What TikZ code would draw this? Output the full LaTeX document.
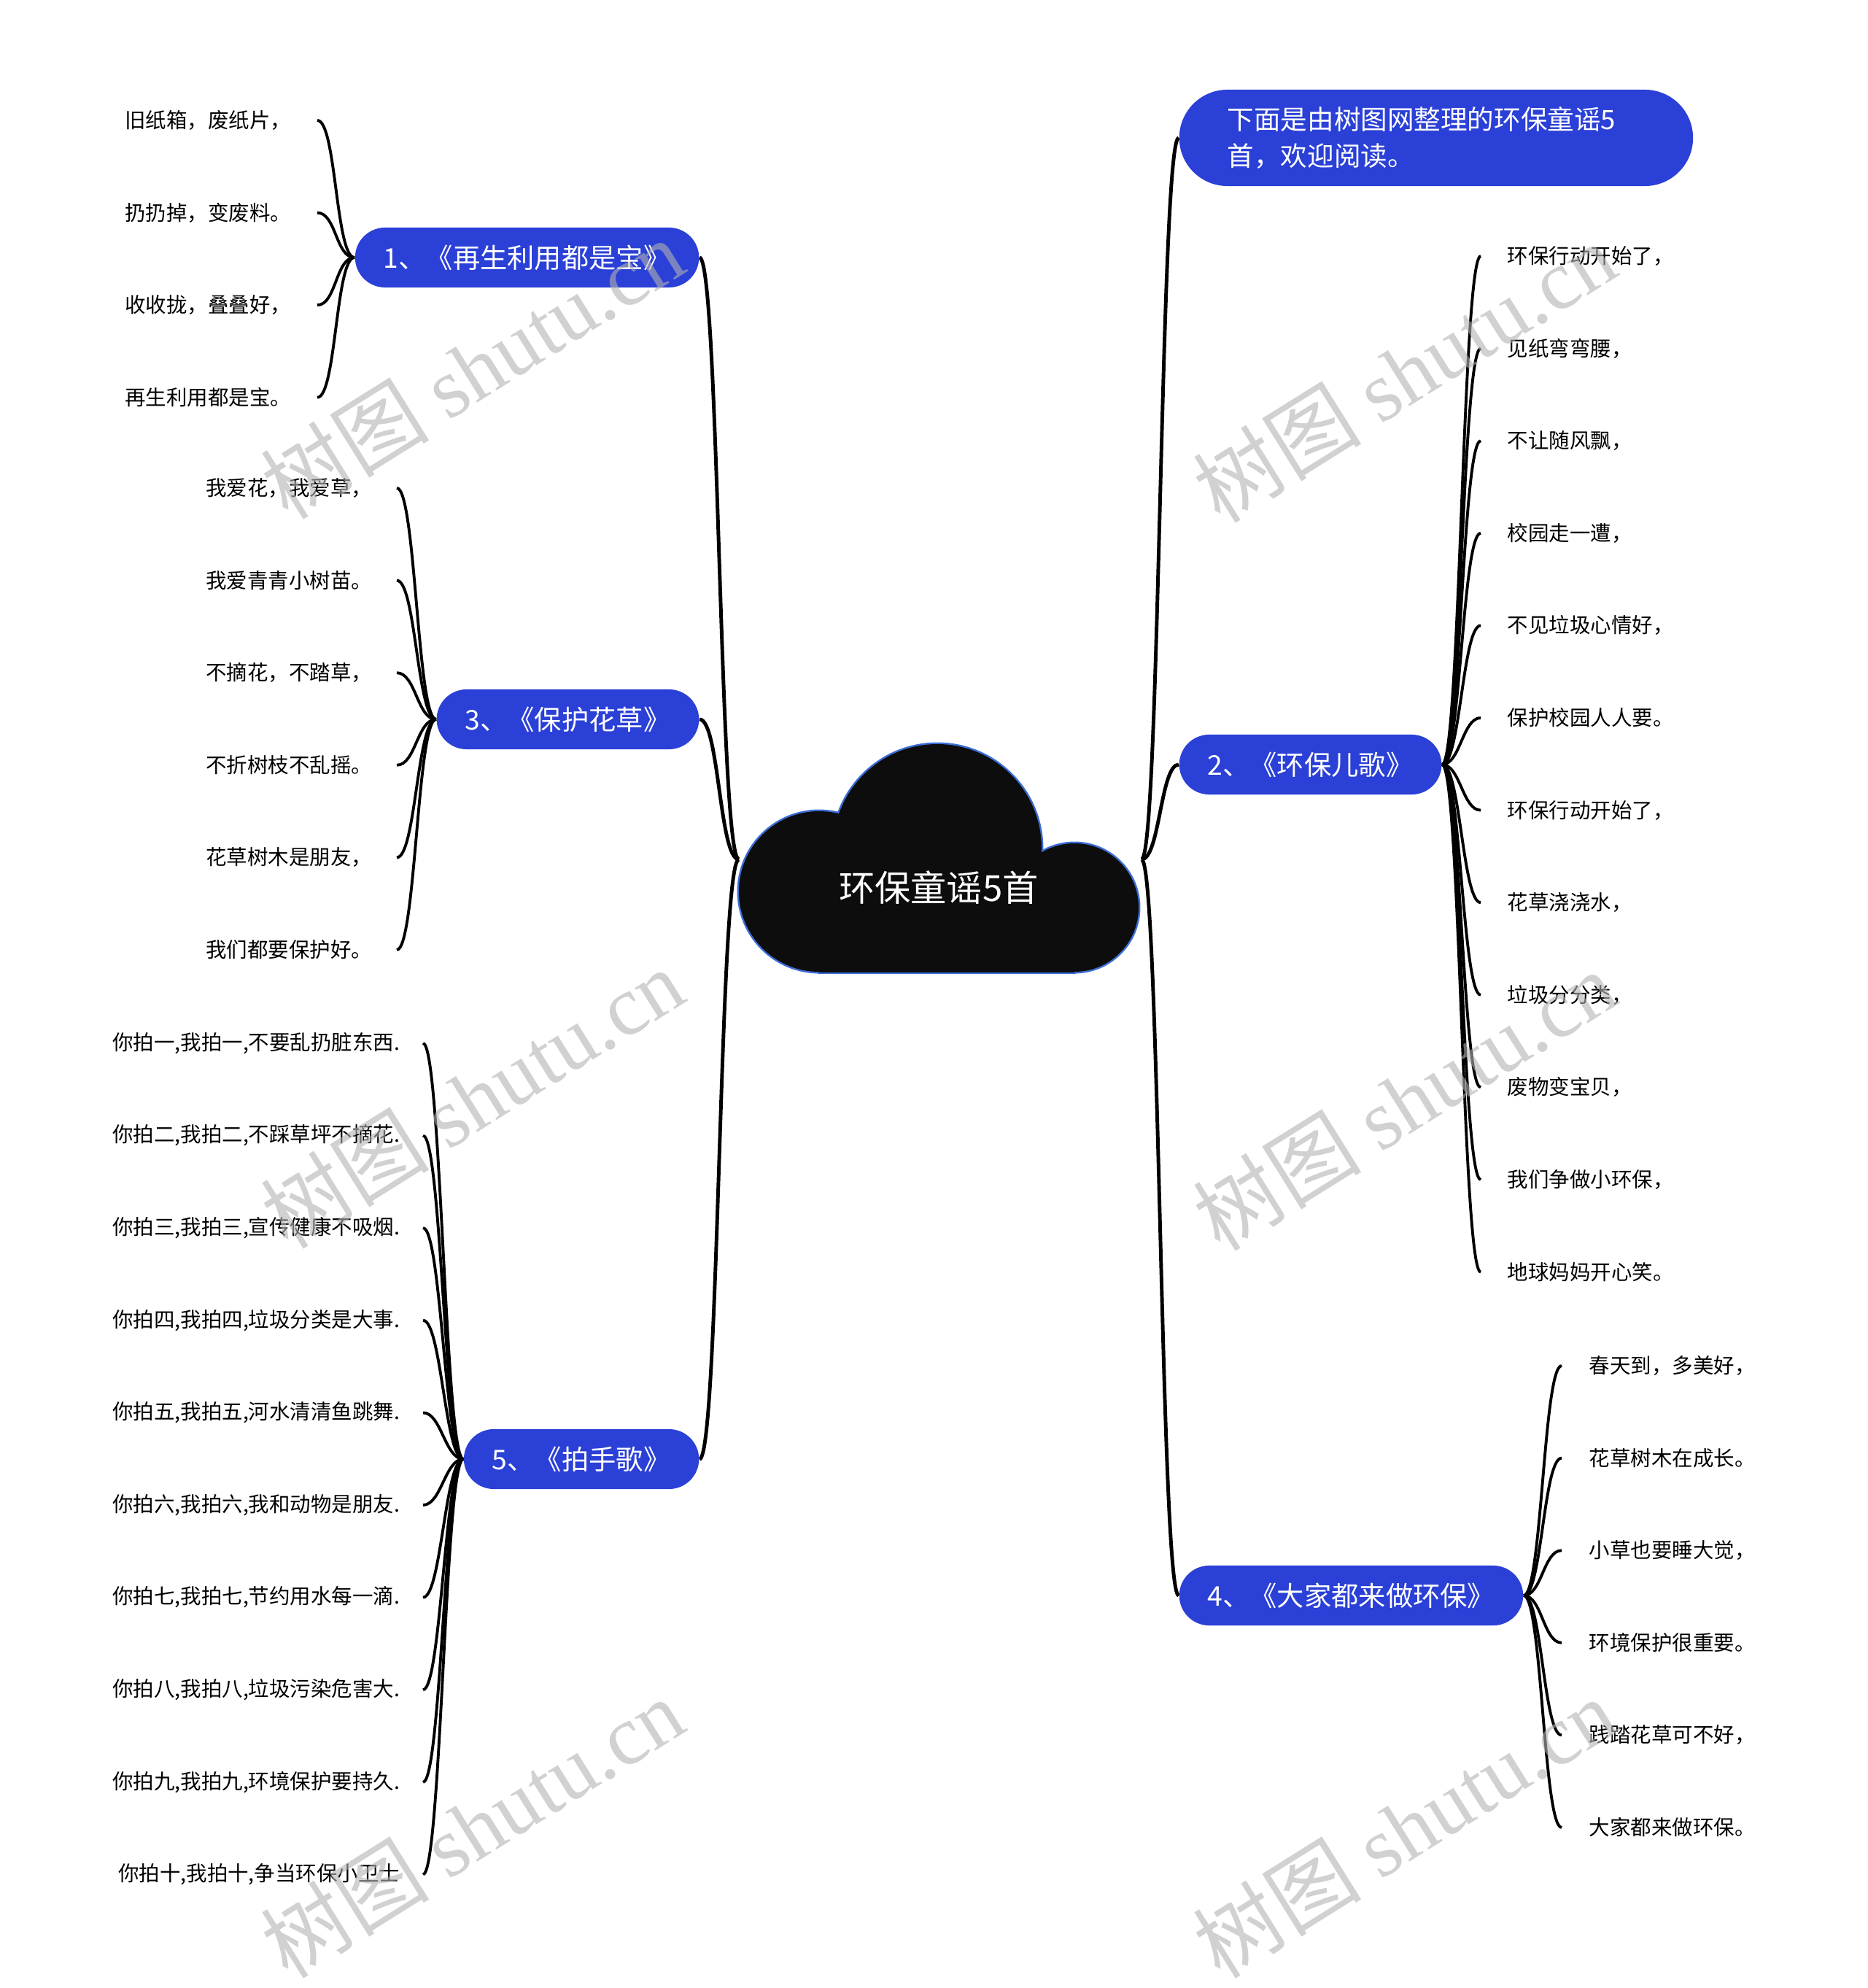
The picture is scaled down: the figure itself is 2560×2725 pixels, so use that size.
\documentclass[tikz,border=0pt]{standalone}
\usepackage{fontspec}
\setmainfont{Noto Sans CJK SC}
\newfontfamily\wmfont{Liberation Serif}
\definecolor{topicblue}{RGB}{43,64,214}
\definecolor{cloudedge}{RGB}{60,110,215}
\definecolor{cloudfill}{RGB}{13,13,13}
\tikzset{
  topic/.style={fill=topicblue, text=white, rounded corners=0.41cm, minimum height=0.82cm,
    inner xsep=0.39cm, inner ysep=0pt, font=\fontsize{10.6}{12}\selectfont},
  leaf/.style={inner ysep=0pt, font=\fontsize{8.1}{9.5}\selectfont},
  leafL/.style={leaf, anchor=east, inner xsep=#1},
  leafR/.style={leaf, anchor=west, inner xsep=#1},
  mainlink/.style={line width=1.4pt},
  sublink/.style={line width=1.1pt},
  wmtext/.style={text=black!30, text opacity=0.6, rotate=32, font=\fontsize{33}{36}\selectfont}
}
\begin{document}
\begin{tikzpicture}[x=0.01cm, y=0.01cm]
  \useasboundingbox (0,0) rectangle (2560,-2725);
  \foreach \c/\r in {{1123,-1222}/110, {1285,-1163}/143, {1473,-1244}/88}
    \draw[cloudedge, line width=1.4pt] (\c) circle (\r);
  \draw[cloudedge, line width=1.4pt] (1123,-1222) rectangle (1473,-1333);
  \foreach \c/\r in {{1123,-1222}/110, {1285,-1163}/143, {1473,-1244}/88}
    \fill[cloudfill] (\c) circle (\r);
  \fill[cloudfill] (1123,-1222) rectangle (1473,-1333);
  \node[text=white, font=\fontsize{14}{16}\selectfont] (root) at (1287,-1217) {环保童谣5首};
  \coordinate (rootL) at (1013,-1178);
  \coordinate (rootR) at (1565,-1178);

  \node[topic, anchor=east] (t1) at (959,-353) {1、《再生利用都是宝》};
  \node[topic, anchor=east] (t3) at (959,-986) {3、《保护花草》};
  \node[topic, anchor=east] (t5) at (959,-2000) {5、《拍手歌》};
  \node[topic, anchor=west] (t2) at (1616,-1048) {2、《环保儿歌》};
  \node[topic, anchor=west] (t4) at (1616,-2187) {4、《大家都来做环保》};
  \node[topic, anchor=west, align=left, text width=5.72cm, minimum height=1.32cm, inner xsep=0.66cm,
    rounded corners=0.66cm, font=\fontsize{10.4}{14.3}\selectfont] (intro) at (1616,-189)
    {下面是由树图网整理的环保童谣5\\首，欢迎阅读。};

  \foreach \t in {t1,t3,t5}
    \draw[mainlink] (rootL) .. controls +(-27,0) and +(27,0) .. (\t.east);
  \foreach \t in {intro,t2,t4}
    \draw[mainlink] (rootR) .. controls +(25,0) and +(-25,0) .. (\t.west);

  \foreach \txt [count=\i] in {旧纸箱，废纸片，,扔扔掉，变废料。,收收拢，叠叠好，,再生利用都是宝。}{
    \node[leafL=0.35cm] (a\i) at (435,{-165-126.6*(\i-1)}) {\txt};
    \draw[sublink] (t1.west) .. controls +(-26,0) and +(26,0) .. (a\i.east);
  }
  \foreach \txt [count=\i] in {我爱花，我爱草，,我爱青青小树苗。,不摘花，不踏草，,不折树枝不乱摇。,花草树木是朋友，,我们都要保护好。}{
    \node[leafL=0.33cm] (c\i) at (544,{-669-126.6*(\i-1)}) {\txt};
    \draw[sublink] (t3.west) .. controls +(-26,0) and +(26,0) .. (c\i.east);
  }
  \foreach \txt [count=\i] in {{你拍一,我拍一,不要乱扔脏东西.},{你拍二,我拍二,不踩草坪不摘花.},
      {你拍三,我拍三,宣传健康不吸烟.},{你拍四,我拍四,垃圾分类是大事.},{你拍五,我拍五,河水清清鱼跳舞.},
      {你拍六,我拍六,我和动物是朋友.},{你拍七,我拍七,节约用水每一滴.},{你拍八,我拍八,垃圾污染危害大.},
      {你拍九,我拍九,环境保护要持久.},{你拍十,我拍十,争当环保小卫士}}{
    \node[leafL=0.31cm] (e\i) at (580,{-1430-126.6*(\i-1)}) {\txt};
    \draw[sublink] (t5.west) .. controls +(-25,0) and +(25,0) .. (e\i.east);
  }
  \foreach \txt [count=\i] in {环保行动开始了，,见纸弯弯腰，,不让随风飘，,校园走一遭，,不见垃圾心情好，,保护校园人人要。,
      环保行动开始了，,花草浇浇水，,垃圾分分类，,废物变宝贝，,我们争做小环保，,地球妈妈开心笑。}{
    \node[leafR=0.36cm] (b\i) at (2030,{-351-126.6*(\i-1)}) {\txt};
    \draw[sublink] (t2.east) .. controls +(25,0) and +(-25,0) .. (b\i.west);
  }
  \foreach \txt [count=\i] in {春天到，多美好，,花草树木在成长。,小草也要睡大觉，,环境保护很重要。,践踏花草可不好，,大家都来做环保。}{
    \node[leafR=0.37cm] (d\i) at (2141,{-1872-126.6*(\i-1)}) {\txt};
    \draw[sublink] (t4.east) .. controls +(25,0) and +(-25,0) .. (d\i.west);
  }

  \foreach \x/\y [count=\k] in {647/-505, 1925/-510, 647/-1505, 1925/-1508, 647/-2505, 1925/-2505}
    \node[wmtext] (wm\k) at (\x,\y) {树图 {\wmfont shutu.cn}};
\end{tikzpicture}
\end{document}
